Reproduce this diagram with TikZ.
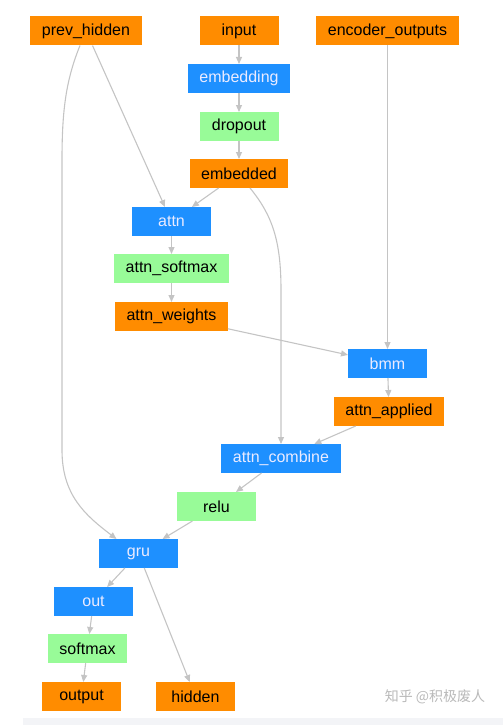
\documentclass[tikz,border=0pt]{standalone}
\usepackage{fontspec}
\setmainfont{Liberation Sans}
\newfontfamily\cjk{Noto Sans CJK SC}
\usetikzlibrary{arrows.meta}
\definecolor{varorange}{HTML}{FF8C00}
\definecolor{opblue}{HTML}{1E90FF}
\definecolor{fngreen}{HTML}{98FB98}
\definecolor{edgegray}{HTML}{C4C4C4}
\definecolor{bandgray}{HTML}{F3F4F7}
\tikzset{
	box/.style={rectangle, minimum width=79pt, minimum height=29pt, inner xsep=11.5pt, outer sep=0pt, font=\fontsize{16}{19}\selectfont},
	var/.style={box, fill=varorange, text=black},
	op/.style={box, fill=opblue, text=blue!8!white},
	fn/.style={box, fill=fngreen, text=black},
	flow/.style={draw=edgegray, line width=1.1pt, -{Triangle[length=7pt,width=6pt]}},
}
\begin{document}
\begin{tikzpicture}[x=1pt,y=-1pt]
	\useasboundingbox (0,0) rectangle (503,725);
	\fill [bandgray] (23,718) rectangle (503,725);
	% Inputs
	\node [var] (prevhidden) at (86,31) {prev\_hidden};
	\node [var] (input) at (239,31) {input};
	\node [var] (encout) at (387.5,31) {encoder\_outputs};
	% Embedding
	\node [op] (embedding) at (239,78.5) {embedding};
	\node [fn] (dropout) at (239,126.5) {dropout};
	\node [var] (embedded) at (239,173.5) {embedded};
	% Attention
	\node [op] (attn) at (171.5,221.5) {attn};
	\node [fn] (attnsoftmax) at (171.5,268.5) {attn\_softmax};
	\node [var] (attnweights) at (171.5,316.5) {attn\_weights};
	\node [op] (bmm) at (387.5,363.5) {bmm};
	\node [var] (attnapplied) at (389,411.5) {attn\_applied};
	\node [op] (attncombine) at (281,458.5) {attn\_combine};
	% Decoder
	\node [fn] (relu) at (216.5,506.5) {relu};
	\node [op] (gru) at (138.5,553.5) {gru};
	\node [op] (out) at (93.5,601.5) {out};
	\node [fn] (softmax) at (87.5,648.5) {softmax};
	\node [var] (output) at (81.5,696.5) {output};
	\node [var] (hidden) at (195.5,696.5) {hidden};
	\node [text=gray!55, font=\cjk\fontsize{14}{16}\selectfont] (mark) at (435,697) {知乎 @积极废人};
	% Edges
	\draw [flow] (input) -- (embedding);
	\draw [flow] (embedding) -- (dropout);
	\draw [flow] (dropout) -- (embedded);
	\draw [flow] (prevhidden) -- (attn);
	\draw [flow] (embedded) -- (attn);
	\draw [flow] (attn) -- (attnsoftmax);
	\draw [flow] (attnsoftmax) -- (attnweights);
	\draw [flow] (attnweights) -- (bmm);
	\draw [flow] (encout) -- (bmm);
	\draw [flow] (bmm) -- (attnapplied);
	\draw [flow] (attnapplied) -- (attncombine);
	\draw [flow] ([xshift=11pt]embedded.south) .. controls (272,215) and (281,240) .. (281,290) -- (attncombine.north);
	\draw [flow] (attncombine) -- (relu);
	\draw [flow] ([xshift=-6pt]prevhidden.south) .. controls (66,80) and (62,110) .. (62,160) -- (62,450) .. controls (62,495) and (85,515) .. ([xshift=-22pt]gru.north);
	\draw [flow] (relu) -- (gru);
	\draw [flow] (gru) -- (out);
	\draw [flow] (gru) -- (hidden);
	\draw [flow] (out) -- (softmax);
	\draw [flow] (softmax) -- (output);
\end{tikzpicture}
\end{document}
